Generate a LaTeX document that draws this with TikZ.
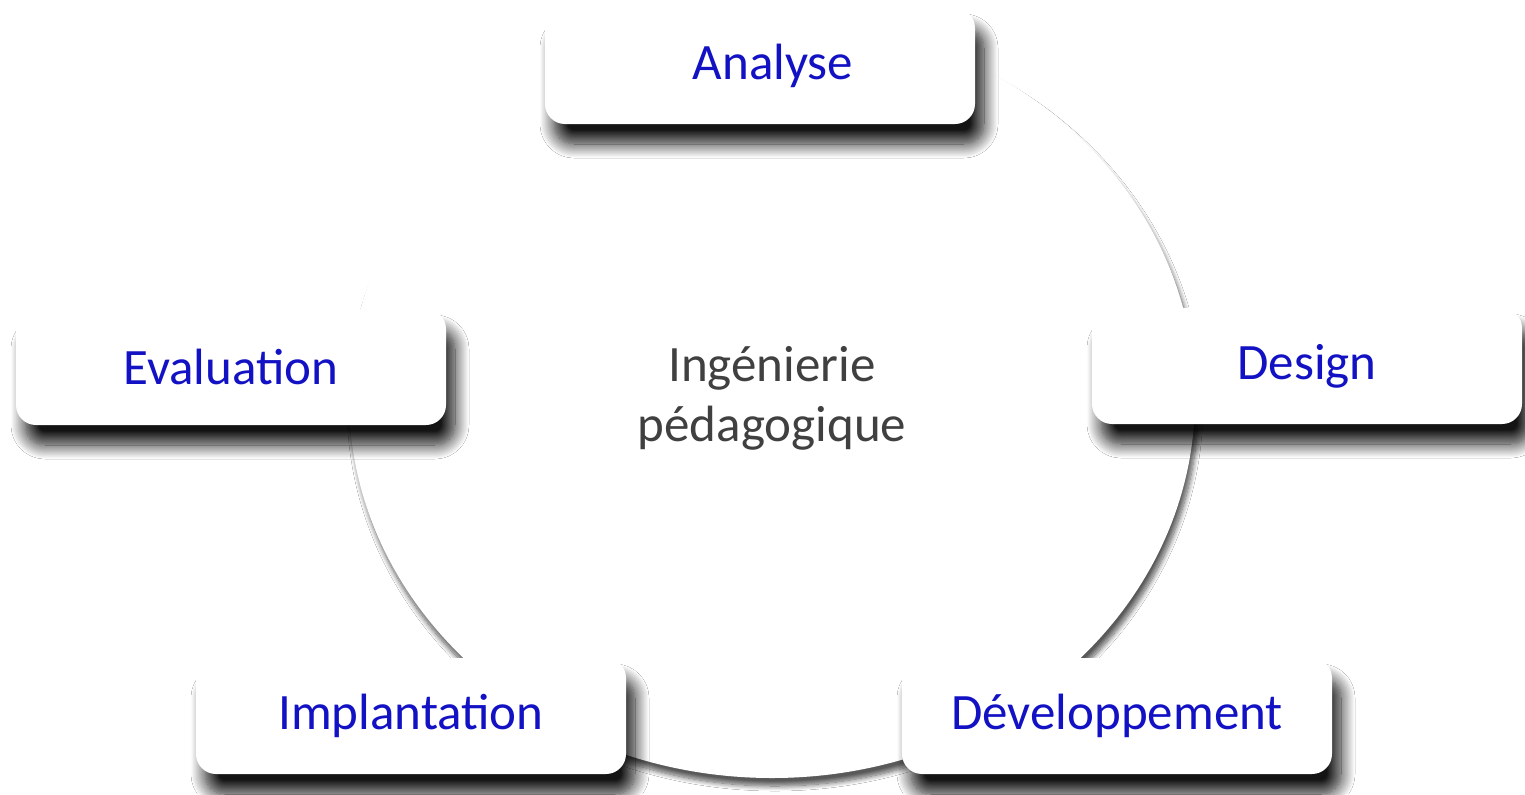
\documentclass[tikz,border=0pt]{standalone}
\usepackage{fontspec}
\setmainfont{Carlito}
\usetikzlibrary{shapes.geometric,shadows.blur}
\definecolor{lblue}{RGB}{18,18,196}
\definecolor{hubtext}{RGB}{64,64,64}
\begin{document}
\begin{tikzpicture}[x=0.5pt,y=-0.5pt,
  stepbox/.style={draw=none, fill=white, rounded corners=10pt,
    minimum width=215pt, minimum height=58pt, inner sep=0pt,
    font=\fontsize{25.5}{30}\selectfont, text=lblue,
    blur shadow={shadow xshift=4.5pt, shadow yshift=-10pt,
      shadow blur radius=7pt, shadow opacity=92, shadow blur steps=16}},
  hubstyle/.style={ellipse, draw=none, fill=white, inner sep=0pt,
    minimum width=846pt/2, minimum height=760pt/2,
    font=\fontsize{25.5}{30}\selectfont, text=hubtext, align=center,
    blur shadow={shadow xshift=1.5pt, shadow yshift=-4pt,
      shadow blur radius=2.5pt, shadow opacity=65, shadow blur steps=10}}]
\useasboundingbox[fill=white] (0,0) rectangle (1525,794);
\node[hubstyle] (hub) at (772,398) {Ingénierie\\pédagogique};
\node[stepbox] (analyse) at (760,66) {\kern13pt Analyse};
\node[stepbox] (design) at (1307,366) {Design};
\node[stepbox] (evaluation) at (231,367) {Evaluation};
\node[stepbox] (implantation) at (411,716) {Implantation};
\node[stepbox] (developpement) at (1117,716) {Développement};
\end{tikzpicture}
\end{document}
